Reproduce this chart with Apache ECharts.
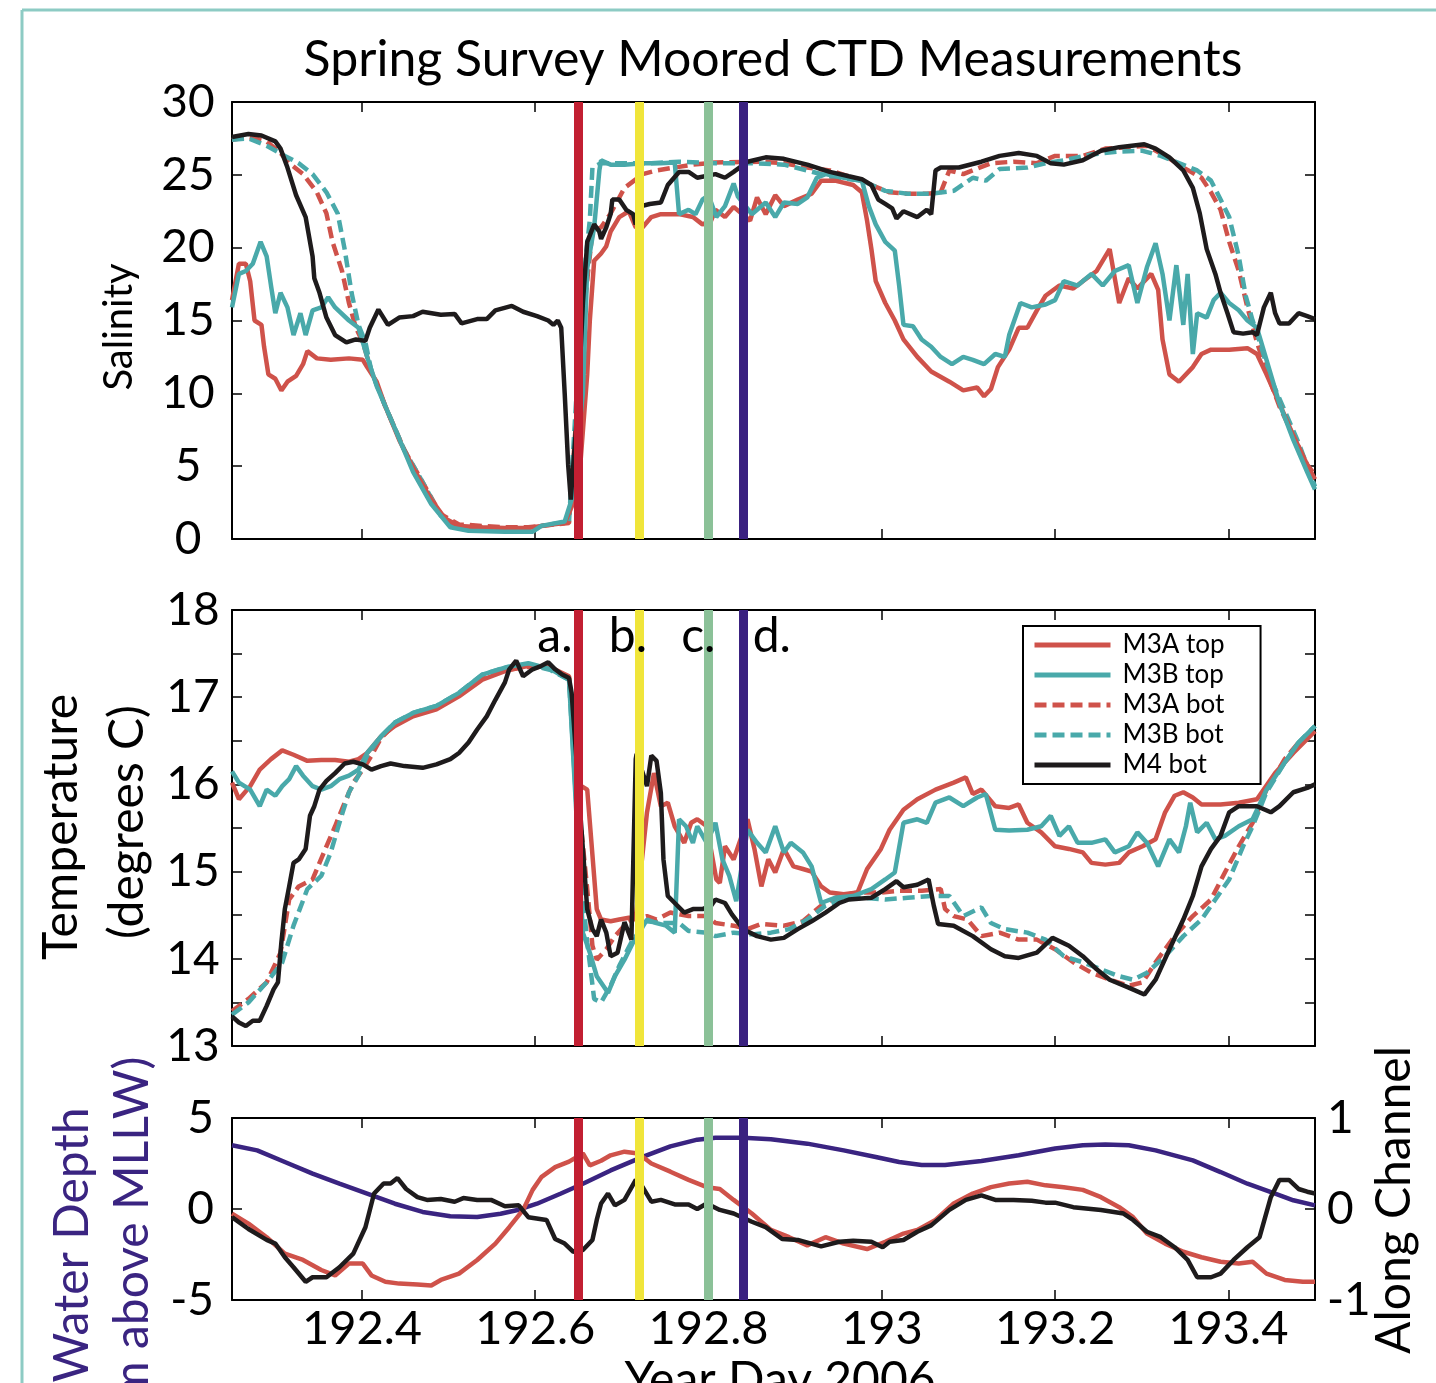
<!DOCTYPE html>
<html>
<head>
<meta charset="utf-8">
<script src="https://cdn.jsdelivr.net/npm/echarts@6/dist/echarts.min.js"></script>
<style>
html,body{margin:0;padding:0;background:#fff;}
#chart{width:1436px;height:1383px;}
</style>
</head>
<body>
<div id="chart"></div>
<script>
// ---------- DATA (Year Day 2006, value) ----------
const xTicks = [192.4, 192.6, 192.8, 193, 193.2, 193.4];
const seriesNames = ['M3A top', 'M3B top', 'M3A bot', 'M3B bot', 'M4 bot'];
const markerDays = [192.649, 192.723, 192.804, 192.839];
const annoLabels = ['a.', 'b.', 'c.', 'd.'];
const annoDays = [192.643, 192.729, 192.808, 192.851];
const annoTemp = 17.70;

// Salinity
const salM3Atop = [[192.250,16.4],[192.258,18.9],[192.266,18.9],[192.271,17.7],[192.276,15.0],[192.284,14.7],[192.287,13.2],[192.292,11.3],[192.300,11.0],[192.307,10.2],[192.314,10.8],[192.324,11.2],[192.332,12.0],[192.337,12.9],[192.348,12.4],[192.364,12.3],[192.385,12.4],[192.401,12.3],[192.406,11.8],[192.417,10.8],[192.427,9.1],[192.443,6.8],[192.459,4.9],[192.480,2.7],[192.496,1.4],[192.512,0.9],[192.539,0.8],[192.565,0.75],[192.592,0.75],[192.607,0.9],[192.634,1.1],[192.642,2.2],[192.652,5.1],[192.660,11.3],[192.663,15.0],[192.668,19.1],[192.676,19.6],[192.682,20.1],[192.687,21.1],[192.697,22.1],[192.708,22.5],[192.716,21.4],[192.724,21.4],[192.734,22.1],[192.745,22.3],[192.766,22.3],[192.782,22.1],[192.793,21.6],[192.803,21.85],[192.808,22.6],[192.819,22.1],[192.829,22.8],[192.848,21.85],[192.856,23.45],[192.866,22.3],[192.877,23.6],[192.887,22.85],[192.903,23.3],[192.919,23.7],[192.930,24.6],[192.946,24.6],[192.967,24.3],[192.977,23.8],[192.983,21.85],[192.988,19.9],[192.993,17.7],[193.004,16.2],[193.015,15.0],[193.025,13.7],[193.041,12.5],[193.057,11.5],[193.078,10.8],[193.094,10.2],[193.110,10.4],[193.118,9.8],[193.126,10.3],[193.134,11.8],[193.147,13.0],[193.158,14.5],[193.168,14.5],[193.179,15.7],[193.189,16.7],[193.205,17.4],[193.221,17.2],[193.232,17.7],[193.248,18.4],[193.263,19.9],[193.274,16.2],[193.285,17.9],[193.295,17.2],[193.311,18.2],[193.319,17.1],[193.324,13.7],[193.332,11.3],[193.343,10.8],[193.359,11.8],[193.369,12.7],[193.380,13.0],[193.401,13.0],[193.422,13.1],[193.433,12.7],[193.444,11.3],[193.459,9.3],[193.475,7.1],[193.491,5.1],[193.5,4.1]];
const salM3Btop = [[192.250,15.9],[192.258,18.2],[192.266,18.4],[192.274,18.9],[192.283,20.4],[192.290,19.4],[192.295,17.4],[192.300,15.5],[192.306,16.9],[192.314,15.9],[192.321,14.0],[192.329,15.5],[192.335,14.0],[192.343,15.7],[192.353,15.9],[192.361,16.6],[192.369,15.9],[192.385,15.0],[192.396,14.5],[192.406,12.5],[192.417,10.5],[192.438,7.6],[192.459,4.6],[192.480,2.4],[192.502,0.8],[192.523,0.57],[192.565,0.5],[192.597,0.5],[192.607,0.9],[192.634,1.2],[192.642,2.7],[192.655,10.0],[192.660,18.6],[192.668,21.4],[192.674,25.3],[192.676,26.0],[192.687,25.7],[192.703,25.7],[192.724,25.8],[192.745,25.8],[192.761,25.85],[192.766,22.3],[192.777,22.6],[192.785,22.3],[192.793,23.3],[192.800,23.6],[192.809,22.1],[192.819,22.85],[192.829,24.4],[192.834,23.5],[192.850,22.3],[192.866,23.1],[192.877,22.1],[192.887,23.1],[192.903,23.0],[192.914,23.45],[192.925,24.8],[192.935,25.05],[192.956,24.8],[192.977,24.6],[192.985,22.85],[192.993,21.6],[193.004,20.4],[193.015,19.8],[193.020,17.4],[193.025,14.7],[193.036,14.6],[193.046,13.7],[193.057,13.2],[193.068,12.5],[193.081,12.0],[193.094,12.5],[193.105,12.3],[193.118,12.0],[193.131,12.7],[193.142,12.5],[193.147,14.0],[193.160,16.2],[193.173,15.9],[193.189,16.1],[193.200,16.4],[193.210,17.7],[193.226,17.4],[193.242,18.2],[193.255,17.4],[193.269,18.4],[193.285,18.8],[193.295,16.2],[193.306,18.65],[193.316,20.3],[193.324,18.2],[193.332,15.0],[193.340,18.8],[193.348,14.7],[193.353,18.2],[193.359,12.7],[193.364,15.5],[193.375,15.2],[193.383,16.4],[193.391,16.9],[193.401,16.2],[193.412,15.7],[193.422,15.0],[193.433,14.5],[193.444,12.3],[193.459,9.3],[193.475,6.8],[193.491,4.6],[193.5,3.4]];
const salM3Abot = [[192.250,27.4],[192.269,27.6],[192.290,27.3],[192.306,26.5],[192.316,25.8],[192.332,25.05],[192.348,23.8],[192.359,22.35],[192.366,20.4],[192.377,18.4],[192.385,16.2],[192.393,14.5],[192.401,13.5],[192.411,11.5],[192.427,9.1],[192.449,6.1],[192.470,3.9],[192.491,1.7],[192.512,1.0],[192.565,0.8],[192.592,0.8],[192.639,1.1],[192.655,15.0],[192.666,21.1],[192.676,21.4],[192.687,22.35],[192.703,24.1],[192.724,25.05],[192.740,25.3],[192.761,25.5],[192.782,25.7],[192.808,25.85],[192.861,25.9],[192.887,25.8],[192.914,25.5],[192.940,25.3],[192.967,24.8],[192.988,24.3],[193.009,23.8],[193.030,23.7],[193.052,23.7],[193.068,23.8],[193.078,25.3],[193.094,25.05],[193.126,25.8],[193.152,25.9],[193.179,25.8],[193.200,26.3],[193.232,26.3],[193.258,26.8],[193.285,26.9],[193.306,27.0],[193.327,26.3],[193.348,25.5],[193.369,24.8],[193.380,23.8],[193.391,22.6],[193.401,20.4],[193.412,18.4],[193.422,15.9],[193.433,13.5],[193.444,11.5],[193.459,9.1],[193.475,7.1],[193.491,5.1],[193.5,4.4]];
const salM3Bbot = [[192.250,27.4],[192.269,27.5],[192.290,27.0],[192.311,26.3],[192.327,25.8],[192.343,25.05],[192.359,23.8],[192.372,22.35],[192.380,19.9],[192.388,16.9],[192.396,14.7],[192.404,13.5],[192.411,11.5],[192.427,9.1],[192.449,6.1],[192.470,3.9],[192.491,1.6],[192.512,0.7],[192.565,0.55],[192.597,0.55],[192.607,0.9],[192.639,1.2],[192.655,17.4],[192.663,21.9],[192.666,25.5],[192.676,25.8],[192.703,25.8],[192.734,25.8],[192.766,25.9],[192.808,25.8],[192.850,25.8],[192.887,25.7],[192.914,25.3],[192.946,24.8],[192.977,24.6],[193.004,23.9],[193.030,23.7],[193.057,23.7],[193.083,23.9],[193.105,24.8],[193.120,24.6],[193.136,25.4],[193.168,25.5],[193.189,25.8],[193.210,26.0],[193.242,26.4],[193.274,26.6],[193.301,26.65],[193.322,26.3],[193.343,25.8],[193.364,25.3],[193.380,24.6],[193.391,23.3],[193.401,22.1],[193.412,19.4],[193.420,16.7],[193.428,15.0],[193.438,13.2],[193.449,11.0],[193.465,8.8],[193.481,6.6],[193.5,3.6]];
const salM4bot = [[192.250,27.6],[192.269,27.8],[192.284,27.7],[192.300,27.3],[192.306,26.8],[192.314,25.5],[192.324,23.6],[192.335,22.1],[192.343,19.4],[192.345,17.9],[192.351,16.9],[192.359,15.2],[192.369,14.0],[192.382,13.5],[192.393,13.7],[192.404,13.6],[192.409,14.5],[192.419,15.75],[192.430,14.7],[192.443,15.2],[192.459,15.3],[192.470,15.6],[192.491,15.4],[192.507,15.45],[192.515,14.8],[192.533,15.1],[192.544,15.1],[192.554,15.7],[192.573,16.0],[192.586,15.6],[192.602,15.3],[192.615,15.0],[192.621,14.7],[192.626,15.0],[192.630,14.5],[192.634,10.0],[192.638,5.1],[192.641,2.7],[192.650,10.0],[192.655,16.2],[192.660,20.4],[192.668,21.6],[192.674,21.1],[192.676,20.6],[192.682,21.4],[192.687,22.3],[192.689,23.3],[192.697,23.3],[192.705,22.6],[192.713,22.3],[192.716,21.6],[192.719,22.8],[192.732,23.0],[192.745,23.1],[192.753,24.3],[192.766,25.2],[192.777,25.2],[192.787,24.8],[192.808,25.05],[192.819,24.8],[192.829,25.2],[192.845,25.9],[192.866,26.2],[192.887,26.1],[192.914,25.7],[192.940,25.2],[192.962,24.9],[192.977,24.7],[192.988,24.3],[192.996,23.3],[193.004,23.0],[193.012,22.7],[193.017,22.0],[193.025,22.5],[193.041,22.1],[193.052,22.6],[193.057,22.3],[193.062,25.3],[193.068,25.5],[193.089,25.5],[193.115,25.9],[193.136,26.3],[193.158,26.5],[193.179,26.3],[193.195,25.8],[193.210,25.7],[193.232,26.0],[193.253,26.65],[193.274,26.9],[193.303,27.1],[193.316,26.8],[193.332,26.2],[193.348,25.3],[193.359,24.1],[193.367,22.35],[193.375,19.9],[193.385,18.2],[193.391,16.9],[193.399,15.5],[193.406,14.2],[193.417,14.1],[193.428,14.2],[193.433,14.0],[193.441,15.9],[193.449,16.9],[193.454,15.5],[193.459,14.8],[193.470,14.8],[193.481,15.5],[193.491,15.3],[193.5,15.1]];

// Temperature (degrees C)
const tmpM3Atop = [[192.250,16.02],[192.258,15.83],[192.271,15.98],[192.282,16.17],[192.295,16.29],[192.308,16.39],[192.321,16.34],[192.337,16.27],[192.353,16.28],[192.369,16.28],[192.385,16.26],[192.396,16.29],[192.406,16.36],[192.422,16.55],[192.438,16.67],[192.459,16.78],[192.486,16.86],[192.512,17.01],[192.539,17.20],[192.565,17.30],[192.592,17.36],[192.618,17.34],[192.639,17.24],[192.650,16.0],[192.660,15.94],[192.671,14.57],[192.676,14.45],[192.687,14.43],[192.697,14.45],[192.708,14.47],[192.716,14.47],[192.729,15.68],[192.737,16.13],[192.745,15.75],[192.753,15.79],[192.761,15.52],[192.772,15.33],[192.780,15.56],[192.787,15.60],[192.798,15.52],[192.809,14.91],[192.813,14.87],[192.819,15.29],[192.829,15.14],[192.845,15.60],[192.853,15.26],[192.861,14.83],[192.869,15.14],[192.877,14.99],[192.887,15.26],[192.898,15.06],[192.909,15.03],[192.919,15.0],[192.930,14.83],[192.940,14.76],[192.956,14.74],[192.972,14.76],[192.983,15.03],[192.999,15.26],[193.009,15.48],[193.025,15.71],[193.041,15.83],[193.062,15.94],[193.083,16.02],[193.097,16.08],[193.105,15.89],[193.115,15.94],[193.131,15.75],[193.147,15.73],[193.158,15.77],[193.168,15.56],[193.184,15.45],[193.200,15.29],[193.216,15.26],[193.232,15.22],[193.242,15.10],[193.258,15.08],[193.274,15.10],[193.285,15.22],[193.301,15.29],[193.316,15.37],[193.327,15.68],[193.338,15.87],[193.348,15.91],[193.359,15.85],[193.369,15.77],[193.391,15.77],[193.412,15.79],[193.433,15.83],[193.454,16.13],[193.475,16.36],[193.5,16.61]];
const tmpM3Btop = [[192.250,16.15],[192.258,16.02],[192.271,15.94],[192.282,15.75],[192.290,15.94],[192.300,15.87],[192.308,15.98],[192.316,16.06],[192.324,16.21],[192.332,16.10],[192.343,15.98],[192.353,15.94],[192.364,15.98],[192.374,16.06],[192.385,16.10],[192.396,16.17],[192.406,16.36],[192.422,16.55],[192.438,16.71],[192.459,16.82],[192.486,16.90],[192.512,17.05],[192.539,17.26],[192.565,17.34],[192.592,17.39],[192.618,17.32],[192.639,17.20],[192.655,14.30],[192.663,14.07],[192.671,13.80],[192.684,13.61],[192.692,13.80],[192.703,13.99],[192.713,14.19],[192.729,14.45],[192.740,14.41],[192.751,14.38],[192.761,14.30],[192.766,15.60],[192.774,15.52],[192.782,15.33],[192.787,15.52],[192.798,15.33],[192.808,15.56],[192.816,15.14],[192.824,14.95],[192.832,14.66],[192.845,15.48],[192.856,15.33],[192.866,15.22],[192.877,15.52],[192.887,15.22],[192.895,15.33],[192.909,15.22],[192.919,15.06],[192.930,14.64],[192.946,14.70],[192.967,14.72],[192.988,14.80],[193.004,14.91],[193.015,14.99],[193.025,15.56],[193.041,15.60],[193.052,15.56],[193.062,15.79],[193.078,15.85],[193.094,15.75],[193.110,15.85],[193.120,15.89],[193.131,15.48],[193.147,15.47],[193.168,15.48],[193.184,15.52],[193.195,15.64],[193.205,15.41],[193.216,15.52],[193.226,15.33],[193.242,15.33],[193.258,15.37],[193.269,15.22],[193.285,15.29],[193.295,15.45],[193.306,15.33],[193.319,15.06],[193.332,15.37],[193.343,15.22],[193.351,15.52],[193.356,15.79],[193.364,15.45],[193.375,15.56],[193.385,15.37],[193.396,15.41],[193.412,15.52],[193.428,15.60],[193.444,15.94],[193.465,16.25],[193.481,16.48],[193.5,16.67]];
const tmpM3Abot = [[192.250,13.40],[192.269,13.54],[192.290,13.73],[192.306,14.07],[192.316,14.68],[192.327,14.83],[192.343,14.91],[192.359,15.29],[192.369,15.52],[192.380,15.79],[192.390,16.02],[192.401,16.17],[192.411,16.33],[192.422,16.53],[192.438,16.69],[192.459,16.80],[192.486,16.88],[192.512,17.03],[192.539,17.22],[192.565,17.31],[192.592,17.35],[192.618,17.33],[192.639,17.22],[192.652,15.6],[192.660,14.8],[192.666,14.15],[192.671,13.99],[192.682,14.11],[192.692,14.26],[192.703,14.38],[192.713,14.45],[192.729,14.49],[192.740,14.45],[192.756,14.53],[192.777,14.49],[192.798,14.49],[192.808,14.41],[192.829,14.38],[192.845,14.34],[192.861,14.40],[192.887,14.38],[192.909,14.43],[192.930,14.61],[192.951,14.72],[192.972,14.76],[192.999,14.76],[193.020,14.78],[193.046,14.78],[193.068,14.80],[193.073,14.57],[193.083,14.49],[193.099,14.45],[193.115,14.26],[193.136,14.30],[193.158,14.22],[193.179,14.22],[193.200,14.11],[193.221,13.96],[193.242,13.84],[193.263,13.76],[193.285,13.69],[193.301,13.73],[193.316,13.96],[193.338,14.26],[193.359,14.49],[193.380,14.68],[193.396,14.99],[193.412,15.29],[193.428,15.56],[193.444,15.94],[193.465,16.29],[193.481,16.48],[193.5,16.61]];
const tmpM3Bbot = [[192.250,13.36],[192.269,13.50],[192.290,13.73],[192.308,13.96],[192.321,14.38],[192.337,14.80],[192.353,14.95],[192.364,15.22],[192.374,15.56],[192.385,15.91],[192.396,16.10],[192.406,16.33],[192.422,16.55],[192.438,16.71],[192.459,16.82],[192.486,16.90],[192.512,17.05],[192.539,17.26],[192.565,17.34],[192.592,17.38],[192.618,17.31],[192.639,17.20],[192.652,15.0],[192.660,14.19],[192.668,13.54],[192.676,13.50],[192.687,13.69],[192.697,13.92],[192.711,14.19],[192.729,14.43],[192.745,14.41],[192.766,14.41],[192.777,14.32],[192.798,14.30],[192.808,14.26],[192.829,14.30],[192.850,14.28],[192.872,14.30],[192.893,14.34],[192.914,14.45],[192.935,14.61],[192.956,14.68],[192.977,14.70],[193.004,14.68],[193.030,14.70],[193.057,14.72],[193.078,14.72],[193.094,14.49],[193.115,14.59],[193.126,14.41],[193.142,14.34],[193.168,14.30],[193.189,14.22],[193.210,14.03],[193.232,13.96],[193.253,13.88],[193.274,13.80],[193.290,13.76],[193.306,13.84],[193.327,14.03],[193.348,14.26],[193.369,14.45],[193.385,14.68],[193.401,14.91],[193.417,15.29],[193.428,15.52],[193.444,15.91],[193.465,16.25],[193.481,16.48],[193.5,16.67]];
const tmpM4bot = [[192.250,13.34],[192.258,13.27],[192.266,13.23],[192.274,13.29],[192.282,13.29],[192.290,13.46],[192.298,13.65],[192.303,13.73],[192.307,14.19],[192.311,14.57],[192.316,14.83],[192.321,15.10],[192.327,15.14],[192.335,15.26],[192.340,15.64],[192.345,15.75],[192.351,15.94],[192.359,16.04],[192.369,16.13],[192.380,16.24],[192.390,16.26],[192.401,16.23],[192.411,16.17],[192.422,16.21],[192.433,16.24],[192.449,16.21],[192.470,16.19],[192.486,16.23],[192.502,16.29],[192.512,16.36],[192.523,16.48],[192.533,16.63],[192.544,16.78],[192.554,16.97],[192.565,17.17],[192.570,17.32],[192.578,17.42],[192.586,17.24],[192.597,17.32],[192.605,17.35],[192.615,17.40],[192.623,17.32],[192.631,17.26],[192.639,17.22],[192.642,17.05],[192.655,15.26],[192.660,14.57],[192.666,14.34],[192.671,14.26],[192.676,14.45],[192.682,14.30],[192.687,14.03],[192.695,14.07],[192.703,14.42],[192.711,14.22],[192.716,16.29],[192.717,16.35],[192.729,15.98],[192.734,16.33],[192.740,16.27],[192.745,15.9],[192.748,15.14],[192.753,14.72],[192.761,14.64],[192.772,14.53],[192.782,14.57],[192.793,14.57],[192.803,14.61],[192.808,14.68],[192.819,14.64],[192.827,14.51],[192.840,14.34],[192.856,14.26],[192.872,14.22],[192.887,14.24],[192.903,14.34],[192.919,14.43],[192.935,14.53],[192.951,14.64],[192.962,14.68],[192.988,14.70],[193.004,14.80],[193.017,14.89],[193.025,14.82],[193.041,14.85],[193.054,14.91],[193.060,14.61],[193.065,14.40],[193.083,14.38],[193.105,14.26],[193.126,14.11],[193.142,14.03],[193.158,14.01],[193.179,14.07],[193.197,14.24],[193.216,14.15],[193.232,14.03],[193.248,13.88],[193.263,13.76],[193.285,13.67],[193.303,13.59],[193.316,13.76],[193.332,14.11],[193.348,14.45],[193.359,14.72],[193.369,15.06],[193.380,15.26],[193.391,15.41],[193.401,15.68],[193.412,15.75],[193.433,15.75],[193.449,15.68],[193.459,15.75],[193.475,15.91],[193.491,15.96],[193.5,16.0]];

// Water depth (m above MLLW)
const waterDepth = [[192.250,3.50],[192.279,3.22],[192.311,2.58],[192.343,1.94],[192.374,1.39],[192.406,0.84],[192.438,0.29],[192.470,-0.16],[192.502,-0.40],[192.533,-0.44],[192.560,-0.26],[192.581,-0.04],[192.602,0.29],[192.629,0.84],[192.655,1.39],[192.687,2.12],[192.724,2.86],[192.756,3.44],[192.787,3.81],[192.808,3.92],[192.840,3.92],[192.872,3.83],[192.914,3.59],[192.956,3.22],[192.993,2.86],[193.020,2.58],[193.046,2.42],[193.073,2.42],[193.115,2.64],[193.158,2.95],[193.200,3.32],[193.232,3.50],[193.258,3.55],[193.285,3.50],[193.316,3.22],[193.359,2.67],[193.391,2.03],[193.422,1.39],[193.454,0.84],[193.475,0.48],[193.5,0.20]];
// Along-channel velocity
const velM3A = [[192.250,-0.05],[192.269,-0.16],[192.290,-0.31],[192.311,-0.49],[192.332,-0.56],[192.353,-0.67],[192.369,-0.73],[192.385,-0.60],[192.401,-0.60],[192.411,-0.73],[192.427,-0.80],[192.443,-0.82],[192.464,-0.83],[192.480,-0.84],[192.491,-0.78],[192.512,-0.71],[192.533,-0.56],[192.554,-0.38],[192.570,-0.20],[192.586,-0.01],[192.597,0.21],[192.607,0.35],[192.623,0.46],[192.639,0.52],[192.655,0.61],[192.663,0.48],[192.676,0.53],[192.687,0.59],[192.703,0.63],[192.719,0.61],[192.734,0.50],[192.756,0.41],[192.777,0.32],[192.798,0.24],[192.813,0.22],[192.829,0.10],[192.850,-0.05],[192.872,-0.23],[192.893,-0.31],[192.914,-0.40],[192.935,-0.31],[192.956,-0.38],[192.983,-0.44],[193.004,-0.36],[193.025,-0.27],[193.041,-0.23],[193.062,-0.12],[193.083,0.06],[193.105,0.17],[193.126,0.24],[193.147,0.28],[193.168,0.30],[193.189,0.26],[193.210,0.24],[193.232,0.21],[193.253,0.13],[193.274,0.02],[193.290,-0.09],[193.306,-0.27],[193.327,-0.38],[193.348,-0.47],[193.369,-0.53],[193.391,-0.58],[193.412,-0.60],[193.428,-0.58],[193.444,-0.71],[193.465,-0.78],[193.486,-0.80],[193.5,-0.80]];
const velM4 = [[192.250,-0.09],[192.269,-0.22],[192.290,-0.34],[192.300,-0.38],[192.311,-0.53],[192.321,-0.64],[192.335,-0.80],[192.343,-0.75],[192.359,-0.75],[192.374,-0.64],[192.390,-0.49],[192.404,-0.20],[192.414,0.17],[192.425,0.28],[192.433,0.28],[192.441,0.34],[192.451,0.22],[192.464,0.13],[192.475,0.10],[192.491,0.11],[192.507,0.08],[192.517,0.12],[192.533,0.10],[192.549,0.10],[192.565,0.03],[192.581,0.04],[192.592,-0.09],[192.613,-0.12],[192.623,-0.33],[192.634,-0.38],[192.644,-0.47],[192.655,-0.45],[192.666,-0.34],[192.671,-0.12],[192.676,0.06],[192.684,0.17],[192.692,0.04],[192.703,0.10],[192.716,0.32],[192.724,0.24],[192.734,0.08],[192.745,0.10],[192.761,0.05],[192.777,0.05],[192.787,0.00],[192.798,0.06],[192.813,-0.01],[192.829,-0.05],[192.850,-0.14],[192.866,-0.20],[192.885,-0.33],[192.903,-0.34],[192.930,-0.41],[192.951,-0.36],[192.967,-0.35],[192.988,-0.36],[193.001,-0.42],[193.009,-0.36],[193.025,-0.34],[193.041,-0.25],[193.057,-0.18],[193.078,-0.01],[193.097,0.10],[193.115,0.15],[193.131,0.10],[193.152,0.10],[193.173,0.09],[193.189,0.07],[193.200,0.07],[193.221,0.02],[193.253,-0.01],[193.279,-0.05],[193.290,-0.12],[193.306,-0.25],[193.322,-0.31],[193.338,-0.42],[193.353,-0.56],[193.364,-0.75],[193.380,-0.75],[193.391,-0.71],[193.406,-0.56],[193.422,-0.42],[193.436,-0.31],[193.449,0.13],[193.459,0.32],[193.470,0.32],[193.481,0.22],[193.491,0.19],[193.5,0.17]];

// ---------- STYLE ----------
const FONT = 'Lato';
const C_RED = '#CF524A', C_TEAL = '#49A9AA', C_BLACK = '#1E1B1C', C_PURPLE = '#3A2481';
const markerColors = ['#C21F32', '#F0E53A', '#8BC198', '#3A2180'];
const GRIDS = [
  {left: 232, top: 102, width: 1083, height: 437},
  {left: 232, top: 610, width: 1083, height: 436},
  {left: 232, top: 1118, width: 1083, height: 182}
];

const chart = echarts.init(document.getElementById('chart'), null, {renderer: 'canvas'});

function xAx(gi, position, showLabel) {
  return {
    type: 'value', gridIndex: gi, position: position, min: 192.25, max: 193.5,
    axisLine: {show: true, onZero: false, lineStyle: {color: '#000', width: 2}},
    axisTick: {show: true, inside: true, length: 10, customValues: xTicks, lineStyle: {color: '#000', width: 1.5}},
    axisLabel: {show: showLabel, customValues: xTicks, fontSize: 47, fontFamily: FONT, color: '#000', margin: 5},
    splitLine: {show: false}
  };
}
function yAx(gi, position, min, max, interval, label) {
  return {
    type: 'value', gridIndex: gi, position: position, min: min, max: max, interval: interval,
    axisLine: {show: true, onZero: false, lineStyle: {color: '#000', width: 2}},
    axisTick: {show: true, inside: true, length: 10, lineStyle: {color: '#000', width: 1.5}},
    axisLabel: label ? Object.assign({fontSize: 46, fontFamily: FONT, color: '#000'}, label) : {show: false},
    splitLine: {show: false}
  };
}

const lineBase = (name, data, color, dashed, xi, yi, z) => ({
  name: name, type: 'line', data: data, xAxisIndex: xi, yAxisIndex: yi,
  symbol: 'none', showSymbol: false, smooth: false, z: z || 2,
  lineStyle: {color: color, width: 4.5, type: dashed ? [12, 6] : 'solid'},
  itemStyle: {color: color}, silent: true
});

function markerSeries(xi, yi) {
  return {
    type: 'line', data: [], xAxisIndex: xi, yAxisIndex: yi, silent: true, z: 10,
    markLine: {
      silent: true, symbol: ['none', 'none'], label: {show: false}, animation: false,
      data: markerDays.map((d, i) => ({xAxis: d, lineStyle: {color: markerColors[i], width: 9, type: 'solid'}}))
    }
  };
}

const salData = [salM3Atop, salM3Btop, salM3Abot, salM3Bbot, salM4bot];
const tmpData = [tmpM3Atop, tmpM3Btop, tmpM3Abot, tmpM3Bbot, tmpM4bot];
const colors = [C_RED, C_TEAL, C_RED, C_TEAL, C_BLACK];
const dashed = [false, false, true, true, false];
const drawOrder = [2, 3, 0, 1, 4];

const series = [];
drawOrder.forEach(i => series.push(lineBase(seriesNames[i], salData[i], colors[i], dashed[i], 0, 0, 2 + (i === 4 ? 1 : 0))));
drawOrder.forEach(i => series.push(lineBase(seriesNames[i], tmpData[i], colors[i], dashed[i], 2, 2, 2 + (i === 4 ? 1 : 0))));
series.push(lineBase('Water depth', waterDepth, C_PURPLE, false, 4, 4));
series.push(lineBase('M3A velocity', velM3A, C_RED, false, 4, 5));
series.push(lineBase('M4 velocity', velM4, C_BLACK, false, 4, 5, 3));
series.push(markerSeries(0, 0));
series.push(markerSeries(2, 2));
series.push(markerSeries(4, 4));

const rotText = (text, x, y, color, size) => ({
  type: 'text', rotation: Math.PI / 2, x: x, y: y, silent: true,
  style: {text: text, fill: color, font: size + 'px ' + FONT, align: 'center', verticalAlign: 'middle'}
});

const option = {
  animation: false,
  backgroundColor: '#fff',
  grid: GRIDS.map(g => Object.assign({containLabel: false}, g)),
  xAxis: [xAx(0, 'bottom', false), xAx(0, 'top', false), xAx(1, 'bottom', false), xAx(1, 'top', false), xAx(2, 'bottom', true), xAx(2, 'top', false)],
  yAxis: [
    yAx(0, 'left', 0, 30, 5, {align: 'center', margin: 44, padding: [0, 0, 10, 0]}),
    yAx(0, 'right', 0, 30, 5, null),
    yAx(1, 'left', 13, 18, 0.5, {align: 'center', margin: 39, padding: [0, 0, 10, 0], formatter: v => (Number.isInteger(v) ? String(v) : '')}),
    yAx(1, 'right', 13, 18, 0.5, null),
    yAx(2, 'left', -5, 5, 5, {align: 'right', margin: 18}),
    yAx(2, 'right', -1, 1, 1, {align: 'left', margin: 12})
  ],
  legend: {
    data: seriesNames, orient: 'vertical', left: 1023, top: 626,
    backgroundColor: '#fff', borderColor: '#000', borderWidth: 2, borderRadius: 0,
    padding: [6, 36, 6, 9], itemWidth: 76, itemHeight: 14, itemGap: 4,
    selectedMode: false,
    itemStyle: {opacity: 0},
    lineStyle: {width: 5},
    textStyle: {fontSize: 26, fontFamily: FONT, color: '#000', lineHeight: 26, padding: [0, 0, 0, 7]}
  },
  series: series,
  graphic: [
    {type: 'line', silent: true, shape: {x1: 22, y1: 10, x2: 1436, y2: 10}, style: {stroke: '#8DCBC4', lineWidth: 3}},
    {type: 'line', silent: true, shape: {x1: 22, y1: 10, x2: 22, y2: 1383}, style: {stroke: '#8DCBC4', lineWidth: 3}},
    {type: 'text', x: 773, y: 60, silent: true, style: {text: 'Spring Survey Moored CTD Measurements', fill: '#000', font: '50px ' + FONT, align: 'center', verticalAlign: 'middle'}},
    rotText('Salinity', 119, 327, '#000', 40),
    rotText('Temperature', 62, 827, '#000', 48),
    rotText('(degrees C)', 128, 822, '#000', 48),
    rotText('Water Depth', 73, 1245, C_PURPLE, 48),
    rotText('(m above MLLW)', 133, 1235, C_PURPLE, 48),
    rotText('Along Channel', 1395, 1200, '#000', 48),
    {type: 'text', x: 780, y: 1357, silent: true, style: {text: 'Year Day 2006', fill: '#000', font: '48px ' + FONT, align: 'center', verticalAlign: 'top'}}
  ]
};
chart.setOption(option);

// annotation letters placed in data coordinates of the temperature panel
const annoGraphics = annoLabels.map((t, i) => {
  const p = chart.convertToPixel({xAxisIndex: 2, yAxisIndex: 2}, [annoDays[i], annoTemp]);
  return {type: 'text', x: p[0], y: p[1], silent: true, z: 20,
    style: {text: t, fill: '#000', font: '48px ' + FONT, align: i === 3 ? 'left' : 'right', verticalAlign: 'middle'}};
});
chart.setOption({graphic: option.graphic.concat(annoGraphics)});
</script>
</body>
</html>
